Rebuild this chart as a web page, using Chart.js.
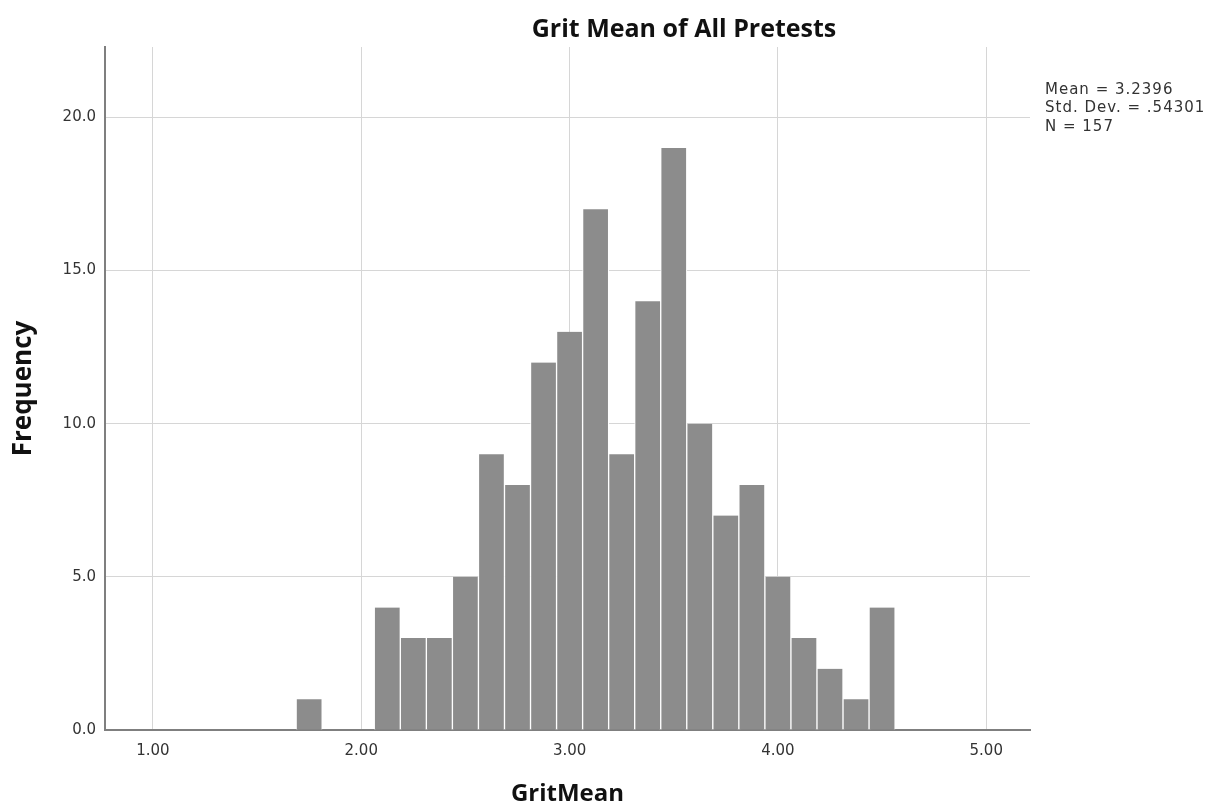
<!DOCTYPE html>
<html>
<head>
<meta charset="utf-8">
<script src="https://cdn.jsdelivr.net/npm/chart.js@4.4.0/dist/chart.umd.min.js"></script>
<style>
  html, body { margin: 0; padding: 0; background: #fff; }
  #wrap { width: 1209px; height: 807px; position: relative; }
</style>
</head>
<body>
<div id="wrap"><canvas id="histChart"></canvas></div>
<script>
var binCenters = [1.75, 1.875, 2.0, 2.125, 2.25, 2.375, 2.5, 2.625, 2.75, 2.875, 3.0, 3.125,
                  3.25, 3.375, 3.5, 3.625, 3.75, 3.875, 4.0, 4.125, 4.25, 4.375, 4.5];
var counts = [1, 0, 0, 4, 3, 3, 5, 9, 8, 12, 13, 17, 9, 14, 19, 10, 7, 8, 5, 3, 2, 1, 4];
var xTicks = [1, 2, 3, 4, 5];
var yTicks = [0, 5, 10, 15, 20];
var statLines = ['Mean = 3.2396', 'Std. Dev. = .54301', 'N = 157'];

var points = binCenters.map(function (c, i) { return {x: c, y: counts[i]}; });

var textPlugin = {
    id: 'textPlugin',
    afterDraw: function (chart) {
        var ctx = chart.ctx;
        ctx.save();
        ctx.fillStyle = '#111';
        ctx.font = 'bold 25px "Open Sans"';
        ctx.textAlign = 'center';
        ctx.textBaseline = 'middle';
        ctx.fillText('Grit Mean of All Pretests', 684, 30);
        ctx.font = '15px "DejaVu Sans"';
        ctx.letterSpacing = '1px';
        ctx.textAlign = 'left';
        ctx.fillStyle = '#333';
        statLines.forEach(function (s, i) {
            ctx.fillText(s, 1045, 90 + i * 18.5);
        });
        ctx.restore();
    }
};

var ctx = document.getElementById('histChart').getContext('2d');
new Chart(ctx, {
    type: 'bar',
    data: {
        datasets: [{
            label: 'GritMean',
            data: points,
            backgroundColor: '#8c8c8c',
            borderColor: '#ffffff',
            borderWidth: {left: 1, right: 1, top: 0, bottom: 0},
            borderSkipped: false,
            barPercentage: 1,
            categoryPercentage: 1
        }]
    },
    options: {
        responsive: true,
        maintainAspectRatio: false,
        animation: false,
        layout: {padding: {left: 0, top: 47, right: 179, bottom: 0}},
        plugins: {legend: {display: false}, tooltip: {enabled: false}},
        scales: {
            x: {
                type: 'linear',
                min: 0.77,
                max: 5.21,
                offset: false,
                afterBuildTicks: function (s) { s.ticks = xTicks.map(function (v) { return {value: v}; }); },
                afterFit: function (s) { s.height = 77; },
                grid: {color: '#d6d6d6', lineWidth: 1, drawTicks: false, offset: false},
                border: {color: '#7f7f7f', width: 2},
                ticks: {
                    padding: 12,
                    color: '#333',
                    font: {family: 'DejaVu Sans', size: 15},
                    callback: function (v) { return Number(v).toFixed(2); },
                    maxRotation: 0
                },
                title: {
                    display: true,
                    text: 'GritMean',
                    color: '#111',
                    font: {family: 'Open Sans', size: 24, weight: 'bold'},
                    padding: {top: 0, bottom: -2}
                }
            },
            y: {
                min: 0,
                max: 22.3,
                afterBuildTicks: function (s) { s.ticks = yTicks.map(function (v) { return {value: v}; }); },
                afterFit: function (s) { s.width = 105; },
                grid: {color: '#d6d6d6', lineWidth: 1, drawTicks: false},
                border: {color: '#7f7f7f', width: 2},
                ticks: {
                    padding: 9,
                    color: '#333',
                    font: {family: 'DejaVu Sans', size: 15},
                    callback: function (v) { return Number(v).toFixed(1); }
                },
                title: {
                    display: true,
                    text: 'Frequency',
                    color: '#111',
                    font: {family: 'Open Sans', size: 26, weight: 'bold'},
                    padding: {top: 8, bottom: 0}
                }
            }
        }
    },
    plugins: [textPlugin]
});
</script>
</body>
</html>
